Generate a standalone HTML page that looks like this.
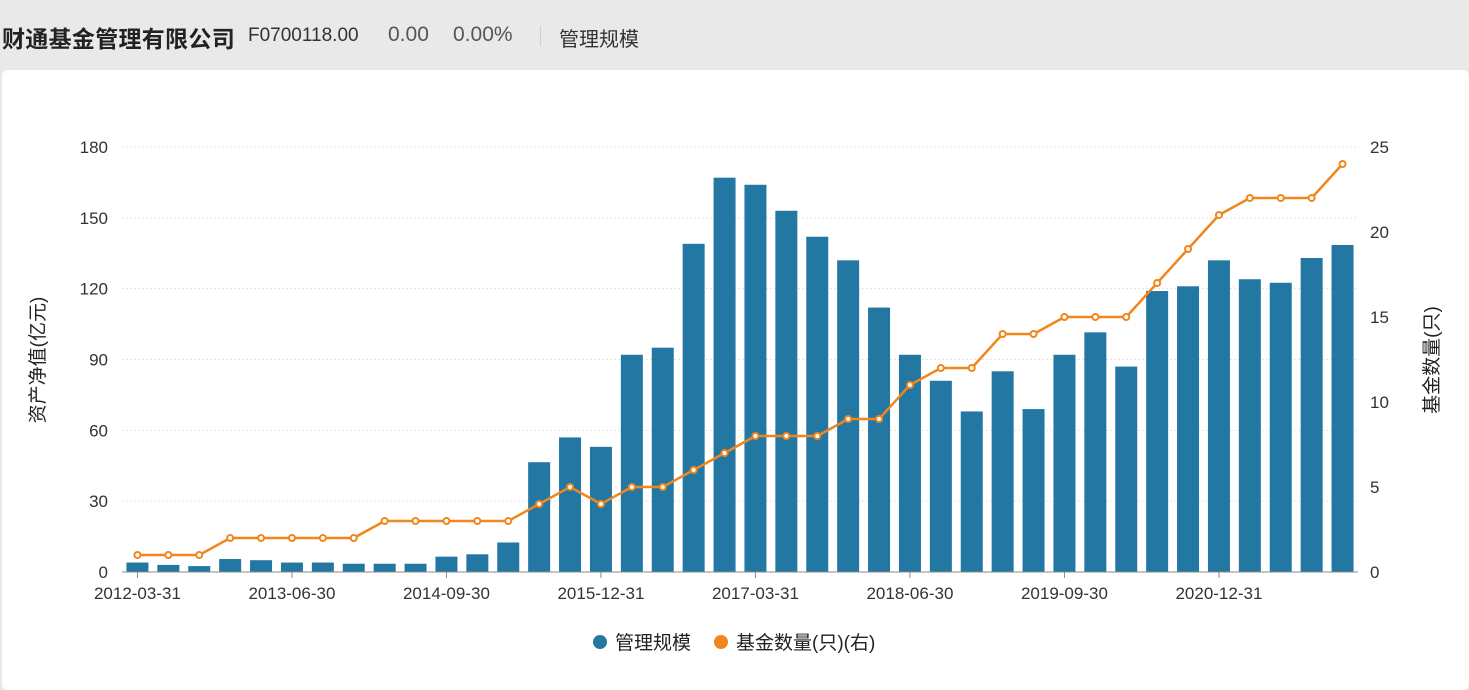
<!DOCTYPE html>
<html><head><meta charset="utf-8"><style>
body{margin:0;width:1469px;height:679px;background:#e9e9e9;font-family:"Liberation Sans","Noto Sans CJK SC",sans-serif;overflow:hidden;position:relative}
#hdr{position:absolute;left:0;top:0;height:70px;width:1469px}
#card{position:absolute;left:2px;top:70px;width:1467px;height:620px;background:#fff;border-radius:6px}
</style></head><body>
<div id="hdr">
<span style="position:absolute;left:2px;top:20px;font-size:23px;font-weight:bold;color:#222;letter-spacing:0.3px">财通基金管理有限公司</span>
<span style="position:absolute;left:248px;top:25px;font-size:19px;color:#333">F0700118.00</span>
<span style="position:absolute;left:388px;top:23px;font-size:21px;color:#555">0.00</span>
<span style="position:absolute;left:453px;top:23px;font-size:21px;color:#555">0.00%</span>
<span style="position:absolute;left:540px;top:26px;width:1px;height:20px;background:#d0d0d0"></span>
<span style="position:absolute;left:559px;top:23px;font-size:20px;color:#333">管理规模</span>
</div>
<div id="card"></div>
<svg id="chart" width="1469" height="679" style="position:absolute;left:0;top:0"></svg>
<script>
const categories=[];for(let y=2012;y<=2021;y++)for(const q of ['03-31','06-30','09-30','12-31'])categories.push(y+'-'+q);
const scaleValues=[4,3,2.5,5.5,5,4,4,3.5,3.5,3.5,6.5,7.5,12.5,46.5,57,53,92,95,139,167,164,153,142,132,112,92,81,68,85,69,92,101.5,87,119,121,132,124,122.5,133,138.5];
const fundCounts=[1,1,1,2,2,2,2,2,3,3,3,3,3,4,5,4,5,5,6,7,8,8,8,9,9,11,12,12,14,14,15,15,15,17,19,21,22,22,22,24];
const leftTicks=[0,30,60,90,120,150,180];
const rightTicks=[0,5,10,15,20,25];
const NS='http://www.w3.org/2000/svg';const svg=document.getElementById('chart');
const x0=122,x1=1358,yT=147,yB=572;
const step=(x1-x0)/categories.length;
const xc=i=>x0+step*(i+0.5);
const yL=v=>yB-(v/180)*(yB-yT);
const yR=v=>yB-(v/25)*(yB-yT);
function mk(t,a,txt){const e=document.createElementNS(NS,t);for(const k in a)e.setAttribute(k,a[k]);if(txt!==undefined)e.textContent=txt;svg.appendChild(e);return e;}
leftTicks.forEach(v=>{
 if(v>0){const g=mk('line',{x1:x0,x2:x1,y1:yL(v),y2:yL(v),stroke:'#e3e3e3','stroke-dasharray':'2,2'});}
 const t=mk('text',{x:108,y:yL(v)+6,'text-anchor':'end','font-size':17,fill:'#333'},v);
 
});
rightTicks.forEach(v=>{
 const t=mk('text',{x:1370,y:yR(v)+6,'font-size':17,fill:'#333'},v);
 
});
scaleValues.forEach((v,i)=>{
 const r=mk('rect',{x:xc(i)-11,y:yL(v),width:22,height:yB-yL(v),fill:'#2278a3'});
 
});
const ax=mk('line',{x1:x0,x2:x1,y1:yB,y2:yB,stroke:'#888'});

categories.forEach((c,i)=>{if(i%5===0){
 mk('line',{x1:xc(i),x2:xc(i),y1:yB,y2:yB+6,stroke:'#888'});
 const t=mk('text',{x:xc(i),y:yB+27,'text-anchor':'middle','font-size':17,fill:'#333'},c);
 
}});
const pl=mk('polyline',{points:fundCounts.map((v,i)=>xc(i)+','+yR(v)).join(' '),fill:'none',stroke:'#f0861c','stroke-width':2.5});

fundCounts.forEach((v,i)=>{const c=mk('circle',{cx:xc(i),cy:yR(v),r:3,fill:'#fff',stroke:'#f0861c','stroke-width':2});
 });
const lt=mk('text',{x:44,y:360,'text-anchor':'middle','font-size':19,fill:'#222',transform:'rotate(-90 44 360)'},'资产净值(亿元)');

const rt=mk('text',{x:1438,y:360,'text-anchor':'middle','font-size':19,fill:'#222',transform:'rotate(-90 1438 360)'},'基金数量(只)');

const l1=mk('circle',{cx:600,cy:642,r:7,fill:'#2278a3'});
const l1t=mk('text',{x:615,y:649,'font-size':19,fill:'#222'},'管理规模');
const l2=mk('circle',{cx:721,cy:642,r:7,fill:'#f0861c'});
const l2t=mk('text',{x:736,y:649,'font-size':19,fill:'#222'},'基金数量(只)(右)');
</script>
</body></html>
